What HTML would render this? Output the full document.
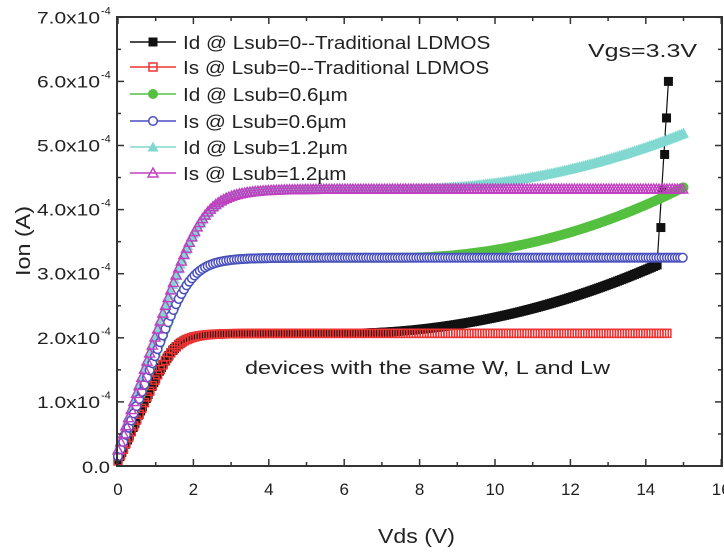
<!DOCTYPE html>
<html><head><meta charset="utf-8"><style>
html,body{margin:0;padding:0;background:#fff;}
svg{display:block;font-family:"Liberation Sans",Arial,sans-serif;}
</style></head><body>
<svg id="s" width="724" height="560" viewBox="0 0 724 560" xmlns="http://www.w3.org/2000/svg">
<g id="data"></g>
<g id="axes"></g>
<text id="vgs" x="588" y="57" font-size="18" fill="#222">Vgs=3.3V</text>
<text id="ann" x="245" y="374" font-size="18" fill="#222">devices with the same W, L and Lw</text>
<text id="xl" x="378" y="543" font-size="20" fill="#222">Vds (V)</text>
<text id="yl" transform="translate(30,276) rotate(-90)" font-size="20" fill="#222">Ion (A)</text>
<g id="legend"></g>
</svg>
<script>
var NS="http://www.w3.org/2000/svg";
function el(t,a,p){var e=document.createElementNS(NS,t);for(var k in a)e.setAttribute(k,a[k]);(p||document.getElementById('data')).appendChild(e);return e;}
function fit(e,w){e.setAttribute('textLength',w);e.setAttribute('lengthAdjust','spacingAndGlyphs');}
fit(document.getElementById('vgs'),109);fit(document.getElementById('ann'),365);
fit(document.getElementById('xl'),77);fit(document.getElementById('yl'),70);
var X0=118,XS=37.7,Y0=466,YS=64.1;
function px(x){return X0+x*XS;} function py(v){return Y0-v*YS;}
var ax=document.getElementById('axes');
el('rect',{x:117,y:17,width:605,height:449,fill:'none',stroke:'#333','stroke-width':2},ax);
for(var i=0;i<=16;i++){var x=px(i),L=i%2?4:7;
 el('line',{x1:x,y1:466,x2:x,y2:466-L,stroke:'#333','stroke-width':1.5},ax);
 el('line',{x1:x,y1:17,x2:x,y2:17+L,stroke:'#333','stroke-width':1.5},ax);
 if(i%2==0){var t=el('text',{x:x,y:495,'font-size':17,fill:'#222','text-anchor':'middle'},ax);t.textContent=i;}}
for(var j=0;j<=14;j++){var v=j/2,y=py(v),L=j%2?4:7;
 el('line',{x1:117,y1:y,x2:117+L,y2:y,stroke:'#333','stroke-width':1.5},ax);
 el('line',{x1:722,y1:y,x2:722-L,y2:y,stroke:'#333','stroke-width':1.5},ax);
 if(j%2==0){var n=j/2;
  if(n==0){var t=el('text',{x:82,y:y+7,'font-size':17,fill:'#222'},ax);t.textContent='0.0';fit(t,28);}
  else{var t=el('text',{x:37,y:y+6,'font-size':17,fill:'#222'},ax);t.textContent=n+'.0x10';fit(t,63);
   var s=el('text',{x:101,y:y-3,'font-size':11,fill:'#222'},ax);s.textContent='-4';}}}
function sat(x,Is,sl,off){var n=6;var u=sl*x;var r=u/Math.pow(1+Math.pow(u/(Is-off),n),1/n);return off+r;}
function marker(type,x,y,c,g){g=g||document.getElementById('data');
 if(type=='sqf')el('rect',{x:x-4.5,y:y-4.5,width:9,height:9,fill:c},g);
 else if(type=='sq')el('rect',{x:x-4,y:y-4,width:8,height:8,fill:'none',stroke:c,'stroke-width':1.5},g);
 else if(type=='cf')el('circle',{cx:x,cy:y,r:5,fill:c},g);
 else if(type=='c')el('circle',{cx:x,cy:y,r:4.3,fill:'#fff',stroke:c,'stroke-width':1.5},g);
 else if(type=='tf')el('polygon',{points:(x-5.5)+','+(y+4.5)+' '+(x+5.5)+','+(y+4.5)+' '+x+','+(y-5.5),fill:c},g);
 else if(type=='t')el('polygon',{points:(x-5)+','+(y+4)+' '+(x+5)+','+(y+4)+' '+x+','+(y-5),fill:'none',stroke:c,'stroke-width':1.4},g);}
function series(f,xmax,step,type,c,x0){for(var x=x0||0;x<=xmax+1e-6;x+=step){var v=f(x);marker(type,px(x),py(v),c);}}
var red=function(x){return sat(x,2.07,1.3,0.08);};
var blue=function(x){return sat(x,3.25,1.6,0.15);};
var mag=function(x){return sat(x,4.32,1.8,0.25);};
series(function(x){var v=red(x);if(x>6)v+=0.0155*(x-6)*(x-6);return v;},14.3,0.05,'sqf','#111');
[14.4,14.45,14.5,14.55,14.6].forEach(function(x){var v=3.15+(x-14.35)/0.25*2.85;marker('sqf',px(x),py(v),'#111');});
el('line',{x1:px(14.3),y1:py(3.15),x2:px(14.6),y2:py(6.0),stroke:'#111','stroke-width':1.2});
series(function(x){var v=blue(x);if(x>7.5)v+=0.0195*(x-7.5)*(x-7.5);return v;},15,0.05,'cf','#55c040');
series(function(x){var v=mag(x);if(x>7.5)v+=0.0155*(x-7.5)*(x-7.5);return v;},15,0.05,'tf','#80d8d0');
series(red,14.6,0.07,'sq','#e33');
series(blue,15,0.07,'c','#4a4fc0');
series(mag,15,0.07,'t','#c040c0');
var lg=document.getElementById('legend');
var items=[['sqf','#111','Id @ Lsub=0--Traditional LDMOS'],['sq','#e33','Is @ Lsub=0--Traditional LDMOS'],['cf','#55c040','Id @ Lsub=0.6\u00b5m'],['c','#4a4fc0','Is @ Lsub=0.6\u00b5m'],['tf','#80d8d0','Id @ Lsub=1.2\u00b5m'],['t','#c040c0','Is @ Lsub=1.2\u00b5m']];
var ys=[42,67,94,121,147,173];
items.forEach(function(it,i){var y=ys[i];
 el('line',{x1:130,y1:y,x2:176,y2:y,stroke:it[1],'stroke-width':1.5},lg);
 marker(it[0],153,y,it[1],lg);
 var t=el('text',{x:183,y:y+7,'font-size':18,fill:'#222'},lg);t.textContent=it[2];
 var w=t.getComputedTextLength();fit(t,w*1.15);});
</script>
</body></html>
